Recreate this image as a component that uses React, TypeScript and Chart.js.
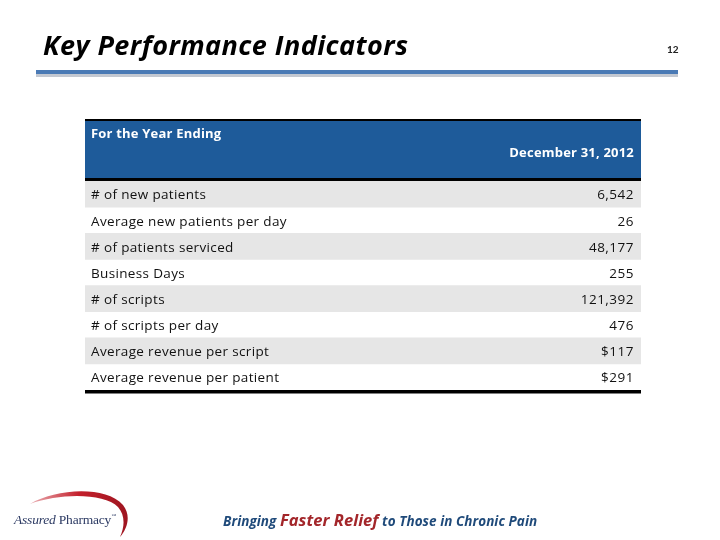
import React, { useEffect, useRef } from "react";
import { Chart, registerables } from "chart.js";

Chart.register(...registerables);

// ---- Data ----
const slideTitle = "Key Performance Indicators";
const pageNumber = "12";
const headerLeft = "For the Year Ending";
const headerRight = "December 31, 2012";
const metricLabels = [
  "# of new patients",
  "Average new patients per day",
  "# of patients serviced",
  "Business Days",
  "# of scripts",
  "# of scripts per day",
  "Average revenue per script",
  "Average revenue per patient",
];
const metricValues = [6542, 26, 48177, 255, 121392, 476, 117, 291];
const metricPrefixes = ["", "", "", "", "", "", "$", "$"];
const stripeRows = [1, null, 1, null, 1, null, 1, null];
const taglineParts = ["Bringing ", "Faster Relief", " to Those in Chronic Pain"];

const valueLabels = metricValues.map(
  (v, i) => metricPrefixes[i] + v.toLocaleString("en-US")
);

const FONT = "'Open Sans', Lato, sans-serif";
const HEADER_BLUE = "#1e5b9a";
const STRIPE = "#e6e6e6";
const TEXT = "#111";

const tablePlugin = {
  id: "tableFrame",
  beforeDraw(chart: any) {
    (chart.ctx as any).letterSpacing = "0.35px";
  },
  beforeDatasetsDraw(chart: any) {
    const { ctx, chartArea } = chart;
    const { left, right, top, bottom } = chartArea;
    ctx.save();
    ctx.fillStyle = "#000";
    ctx.fillRect(left, top - 62, right - left, 2);
    ctx.fillStyle = HEADER_BLUE;
    ctx.fillRect(left, top - 60, right - left, 57);
    ctx.fillStyle = "#000";
    ctx.fillRect(left, top - 3, right - left, 3);
    ctx.fillRect(left, bottom, right - left, 3.5);
    ctx.restore();
  },
  afterDraw(chart: any) {
    const { ctx, chartArea, scales } = chart;
    const { left, right, top } = chartArea;
    ctx.save();
    (ctx as any).letterSpacing = "0.2px";
    ctx.fillStyle = "#ffffff";
    ctx.font = `bold 13px ${FONT}`;
    ctx.textBaseline = "middle";
    ctx.textAlign = "left";
    ctx.fillText(headerLeft, left + 6, top - 47);
    ctx.textAlign = "right";
    ctx.fillText(headerRight, right - 7, top - 28);
    // value column, placed by the y scale
    (ctx as any).letterSpacing = "0.5px";
    ctx.fillStyle = TEXT;
    ctx.font = `13.5px ${FONT}`;
    valueLabels.forEach((txt, i) => {
      ctx.fillText(txt, right - 7, scales.y.getPixelForValue(i) + 1.5);
    });
    ctx.restore();
    (ctx as any).letterSpacing = "0px";
  },
};

function KpiTable() {
  const ref = useRef<HTMLCanvasElement | null>(null);
  useEffect(() => {
    if (!ref.current) return;
    const chart = new Chart(ref.current, {
      type: "bar",
      data: {
        labels: metricLabels,
        datasets: [
          {
            data: stripeRows as any,
            backgroundColor: STRIPE,
            borderWidth: 0,
            barPercentage: 1,
            categoryPercentage: 1,
          },
        ],
      },
      options: {
        indexAxis: "y",
        animation: false,
        responsive: false,
        events: [],
        layout: { padding: { left: 73, right: 79, top: 181, bottom: 150 } },
        plugins: { legend: { display: false }, tooltip: { enabled: false }, title: { display: false } },
        scales: {
          x: { display: false, min: 0, max: 1 },
          y: {
            type: "category",
            position: "left",
            offset: true,
            grid: { display: false, drawTicks: false },
            border: { display: false },
            ticks: {
              mirror: true,
              padding: 6,
              z: 1,
              labelOffset: 1.5,
              color: TEXT,
              font: { family: FONT, size: 13.5 },
            },
          },
        },
      } as any,
      plugins: [tablePlugin],
    });
    return () => chart.destroy();
  }, []);
  return <canvas ref={ref} width={720} height={540} style={{ position: "absolute", left: 0, top: 0 }} />;
}

export default function App() {
  return (
    <div style={{ position: "fixed", left: 0, top: 0, width: 720, height: 540, background: "#fff", overflow: "hidden" }}>
      <KpiTable />
      <div
        style={{
          position: "absolute", left: 43, top: 27, fontFamily: FONT, fontWeight: 700,
          fontStyle: "italic", fontSize: 27, lineHeight: "36px", letterSpacing: "0.45px", color: "#000", whiteSpace: "nowrap",
        }}
      >
        {slideTitle}
      </div>
      <div style={{ position: "absolute", left: 667, top: 43, fontFamily: "'Liberation Sans Narrow', Lato, sans-serif", fontWeight: 700, fontSize: 10, lineHeight: "12px", color: "#222" }}>
        {pageNumber}
      </div>
      <div style={{ position: "absolute", left: 36, top: 70, width: 642, height: 4, background: "#4a7ab5" }} />
      <div style={{ position: "absolute", left: 36, top: 74, width: 642, height: 3, background: "#c3c8d1" }} />
      {/* logo */}
      <svg style={{ position: "absolute", left: 0, top: 486 }} width={140} height={54}>
        <defs>
          <linearGradient id="sw" x1="0" x2="1" y1="0" y2="0">
            <stop offset="0" stopColor="#eab0b4" />
            <stop offset="0.5" stopColor="#c4202c" />
            <stop offset="1" stopColor="#9e1520" />
          </linearGradient>
        </defs>
        <path d="M30 18 C55 3, 105 -1, 123 19 C131 29, 128 42, 120 51 C125 40, 125 29, 118 21 C104 7, 60 7, 30 18 Z" fill="url(#sw)" />
        <text x={14} y={38} fontFamily="'Liberation Serif', serif" fontSize={13.5} fill="#2c3a63" letterSpacing="-0.2">
          <tspan fontStyle="italic">Assured</tspan> Pharmacy
          <tspan fontSize={5} dy={-7}>™</tspan>
        </text>
      </svg>
      <div
        style={{
          position: "absolute", left: 223, top: 509, fontFamily: FONT, fontWeight: 700,
          fontStyle: "italic", fontSize: 13.5, lineHeight: "22px", letterSpacing: "0.05px", color: "#1f4a7a", whiteSpace: "nowrap",
        }}
      >
        {taglineParts[0]}
        <span style={{ color: "#a3262a", fontSize: 16.5 }}>{taglineParts[1]}</span>
        {taglineParts[2]}
      </div>
    </div>
  );
}
